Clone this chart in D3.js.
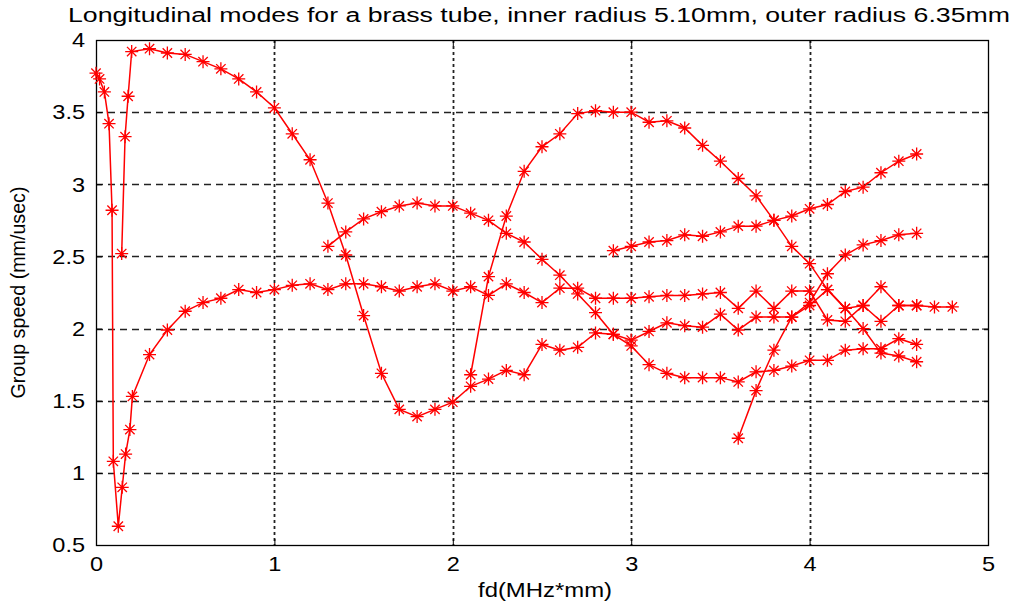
<!DOCTYPE html>
<html>
<head>
<meta charset="utf-8">
<script src="https://cdn.jsdelivr.net/npm/d3@7"></script>
<style>
  html, body { margin: 0; padding: 0; background: #fff; }
  svg { display: block; }
  text { font-family: "Liberation Sans", Arial, sans-serif; fill: #000; }
</style>
</head>
<body>
<svg id="chart" width="1018" height="606"></svg>
<script>
// Group speed of longitudinal modes in a brass tube (fd in MHz*mm, speed in mm/usec)
const mode1Fd = [0.0, 0.02, 0.047, 0.073, 0.09, 0.097, 0.125, 0.147, 0.166, 0.19, 0.204, 0.3, 0.4, 0.5, 0.6, 0.7, 0.8, 0.9, 1.0, 1.1, 1.2, 1.3, 1.4, 1.5, 1.6, 1.7, 1.8, 1.9, 2.0, 2.1, 2.2, 2.3, 2.4, 2.5, 2.6, 2.7, 2.8, 2.9, 3.0, 3.1, 3.2, 3.3, 3.4, 3.5, 3.6, 3.7, 3.8, 3.9, 4.0, 4.1, 4.2, 4.3, 4.4, 4.5, 4.6, 4.7, 4.8];
const mode1Speed = [3.77, 3.73, 3.64, 3.42, 2.82, 1.08, 0.63, 0.90, 1.13, 1.30, 1.53, 1.82, 1.99, 2.12, 2.18, 2.21, 2.27, 2.25, 2.27, 2.30, 2.31, 2.27, 2.31, 2.31, 2.29, 2.26, 2.29, 2.31, 2.26, 2.29, 2.23, 2.31, 2.25, 2.18, 2.28, 2.28, 2.21, 2.21, 2.21, 2.22, 2.23, 2.23, 2.24, 2.25, 2.14, 2.26, 2.14, 2.26, 2.26, 2.06, 2.05, 2.16, 2.29, 2.16, 2.16, 2.15, 2.15];

const mode2Fd = [0.144, 0.163, 0.18, 0.2, 0.3, 0.4, 0.5, 0.6, 0.7, 0.8, 0.9, 1.0, 1.1, 1.2, 1.3, 1.4, 1.5, 1.6, 1.7, 1.8, 1.9, 2.0, 2.1, 2.2, 2.3, 2.4, 2.5, 2.6, 2.7, 2.8, 2.9, 3.0, 3.1, 3.2, 3.3, 3.4, 3.5, 3.6, 3.7, 3.8, 3.9, 4.0, 4.1, 4.2, 4.3, 4.4, 4.5, 4.6];
const mode2Speed = [2.52, 3.33, 3.61, 3.92, 3.94, 3.91, 3.90, 3.85, 3.80, 3.73, 3.64, 3.53, 3.35, 3.17, 2.87, 2.51, 2.09, 1.69, 1.44, 1.39, 1.44, 1.49, 1.60, 1.65, 1.71, 1.68, 1.89, 1.85, 1.87, 1.97, 1.96, 1.92, 1.98, 2.04, 2.02, 2.01, 2.10, 1.99, 2.08, 2.08, 2.08, 2.16, 2.27, 2.14, 2.16, 2.05, 2.16, 2.16];

const mode3Fd = [1.3, 1.4, 1.5, 1.6, 1.7, 1.8, 1.9, 2.0, 2.1, 2.2, 2.3, 2.4, 2.5, 2.6, 2.7, 2.8, 2.9, 3.0, 3.1, 3.2, 3.3, 3.4, 3.5, 3.6, 3.7, 3.8, 3.9, 4.0, 4.1, 4.2, 4.3, 4.4, 4.5, 4.6];
const mode3Speed = [2.57, 2.67, 2.76, 2.81, 2.85, 2.87, 2.85, 2.85, 2.80, 2.75, 2.66, 2.60, 2.48, 2.37, 2.24, 2.11, 1.96, 1.88, 1.75, 1.69, 1.66, 1.66, 1.66, 1.63, 1.70, 1.71, 1.74, 1.78, 1.78, 1.85, 1.86, 1.86, 1.93, 1.89];

const mode4Fd = [2.1, 2.2, 2.3, 2.4, 2.5, 2.6, 2.7, 2.8, 2.9, 3.0, 3.1, 3.2, 3.3, 3.4, 3.5, 3.6, 3.7, 3.8, 3.9, 4.0, 4.1, 4.2, 4.3, 4.4, 4.5, 4.6];
const mode4Speed = [1.68, 2.36, 2.78, 3.09, 3.26, 3.35, 3.49, 3.51, 3.50, 3.50, 3.43, 3.44, 3.39, 3.27, 3.16, 3.04, 2.92, 2.75, 2.57, 2.45, 2.27, 2.14, 2.00, 1.83, 1.81, 1.77];

const mode5Fd = [2.9, 3.0, 3.1, 3.2, 3.3, 3.4, 3.5, 3.6, 3.7, 3.8, 3.9, 4.0, 4.1, 4.2, 4.3, 4.4, 4.5, 4.6];
const mode5Speed = [2.54, 2.57, 2.60, 2.61, 2.65, 2.64, 2.67, 2.71, 2.71, 2.75, 2.78, 2.83, 2.86, 2.95, 2.98, 3.08, 3.16, 3.21];

const mode6Fd = [3.6, 3.7, 3.8, 3.9, 4.0, 4.1, 4.2, 4.3, 4.4, 4.5, 4.6];
const mode6Speed = [1.24, 1.57, 1.85, 2.08, 2.18, 2.38, 2.51, 2.58, 2.61, 2.65, 2.66];

const xTicks = [0, 1, 2, 3, 4, 5];
const yTicks = [0.5, 1, 1.5, 2, 2.5, 3, 3.5, 4];
const titleText = "Longitudinal modes for a brass tube, inner radius 5.10mm, outer radius 6.35mm";
const xLabel = "fd(MHz*mm)";
const yLabel = "Group speed (mm/usec)";

const modes = [
  [mode1Fd, mode1Speed],
  [mode2Fd, mode2Speed],
  [mode3Fd, mode3Speed],
  [mode4Fd, mode4Speed],
  [mode5Fd, mode5Speed],
  [mode6Fd, mode6Speed]
].map(([xs, ys]) => xs.map((x, i) => ({ x, y: ys[i] })));

const svg = d3.select("#chart");
const W = 1018, H = 606;
const m = { left: 96, right: 30, top: 40, bottom: 61 };
const iw = W - m.left - m.right, ih = H - m.top - m.bottom;

const x = d3.scaleLinear().domain([0, 5]).range([0, iw]);
const y = d3.scaleLinear().domain([0.5, 4]).range([ih, 0]);

const g = svg.append("g").attr("transform", `translate(${m.left},${m.top})`);

// dashed grid
g.append("g").selectAll("line").data(yTicks.slice(1, -1)).join("line")
  .attr("x1", 0).attr("x2", iw)
  .attr("y1", d => Math.round(y(d)) + 0.5).attr("y2", d => Math.round(y(d)) + 0.5)
  .attr("stroke", "#222").attr("stroke-width", 1.3).attr("stroke-dasharray", "7,5");
g.append("g").selectAll("line").data(xTicks.slice(1, -1)).join("line")
  .attr("y1", 0).attr("y2", ih)
  .attr("x1", d => Math.round(x(d)) + 0.5).attr("x2", d => Math.round(x(d)) + 0.5)
  .attr("stroke", "#222").attr("stroke-width", 1.8).attr("stroke-dasharray", "3,3");

// axes with inward ticks on all four sides
const fmt = d => String(d);
const axB = g.append("g").attr("transform", `translate(0,${ih})`)
  .call(d3.axisBottom(x).tickValues(xTicks).tickSizeInner(-6).tickSizeOuter(0).tickPadding(11).tickFormat(fmt));
const axT = g.append("g")
  .call(d3.axisTop(x).tickValues(xTicks).tickSizeInner(-6).tickSizeOuter(0).tickFormat(""));
const axL = g.append("g")
  .call(d3.axisLeft(y).tickValues(yTicks).tickSizeInner(-6).tickSizeOuter(0).tickPadding(11).tickFormat(fmt));
const axR = g.append("g").attr("transform", `translate(${iw},0)`)
  .call(d3.axisRight(y).tickValues(yTicks).tickSizeInner(-6).tickSizeOuter(0).tickFormat(""));
[axB, axT, axL, axR].forEach(a => {
  a.select(".domain").remove();
  a.selectAll("line").attr("stroke", "#000");
  a.selectAll("text").attr("font-size", 21).attr("fill", "#000");
});
// widen tick labels slightly (wide, tall numerals)
[axB, axL].forEach(a => {
  a.selectAll("text").each(function () {
    const w = this.getComputedTextLength();
    d3.select(this).attr("textLength", w * 1.12).attr("lengthAdjust", "spacingAndGlyphs");
  });
});

// frame
g.append("rect").attr("x", 0.5).attr("y", 0.5).attr("width", iw).attr("height", ih)
  .attr("fill", "none").attr("stroke", "#000").attr("stroke-width", 1.3);

// mode curves
const line = d3.line().x(d => x(d.x)).y(d => y(d.y));
g.append("g").selectAll("path").data(modes).join("path")
  .attr("d", line).attr("fill", "none").attr("stroke", "#ff0000").attr("stroke-width", 1.5);

// asterisk markers
const r = 6.5, rd = 4.7;
const star = `M0,${-r}V${r}M${-r},0H${r}M${-rd},${-rd}L${rd},${rd}M${-rd},${rd}L${rd},${-rd}`;
g.append("g").selectAll("path").data(modes.flat()).join("path")
  .attr("transform", d => `translate(${x(d.x)},${y(d.y)})`)
  .attr("d", star).attr("fill", "none").attr("stroke", "#ff0000").attr("stroke-width", 1.3);

// titles
svg.append("text").attr("x", 68).attr("y", 22).attr("font-size", 20)
  .attr("textLength", 942).attr("lengthAdjust", "spacingAndGlyphs").text(titleText);
svg.append("text").attr("x", 545).attr("y", 597).attr("font-size", 21)
  .attr("text-anchor", "middle")
  .attr("textLength", 134).attr("lengthAdjust", "spacingAndGlyphs").text(xLabel);
svg.append("text").attr("transform", `translate(25,${m.top + ih / 2}) rotate(-90)`)
  .attr("font-size", 20).attr("text-anchor", "middle")
  .attr("textLength", 212).attr("lengthAdjust", "spacingAndGlyphs").text(yLabel);
</script>
</body>
</html>
